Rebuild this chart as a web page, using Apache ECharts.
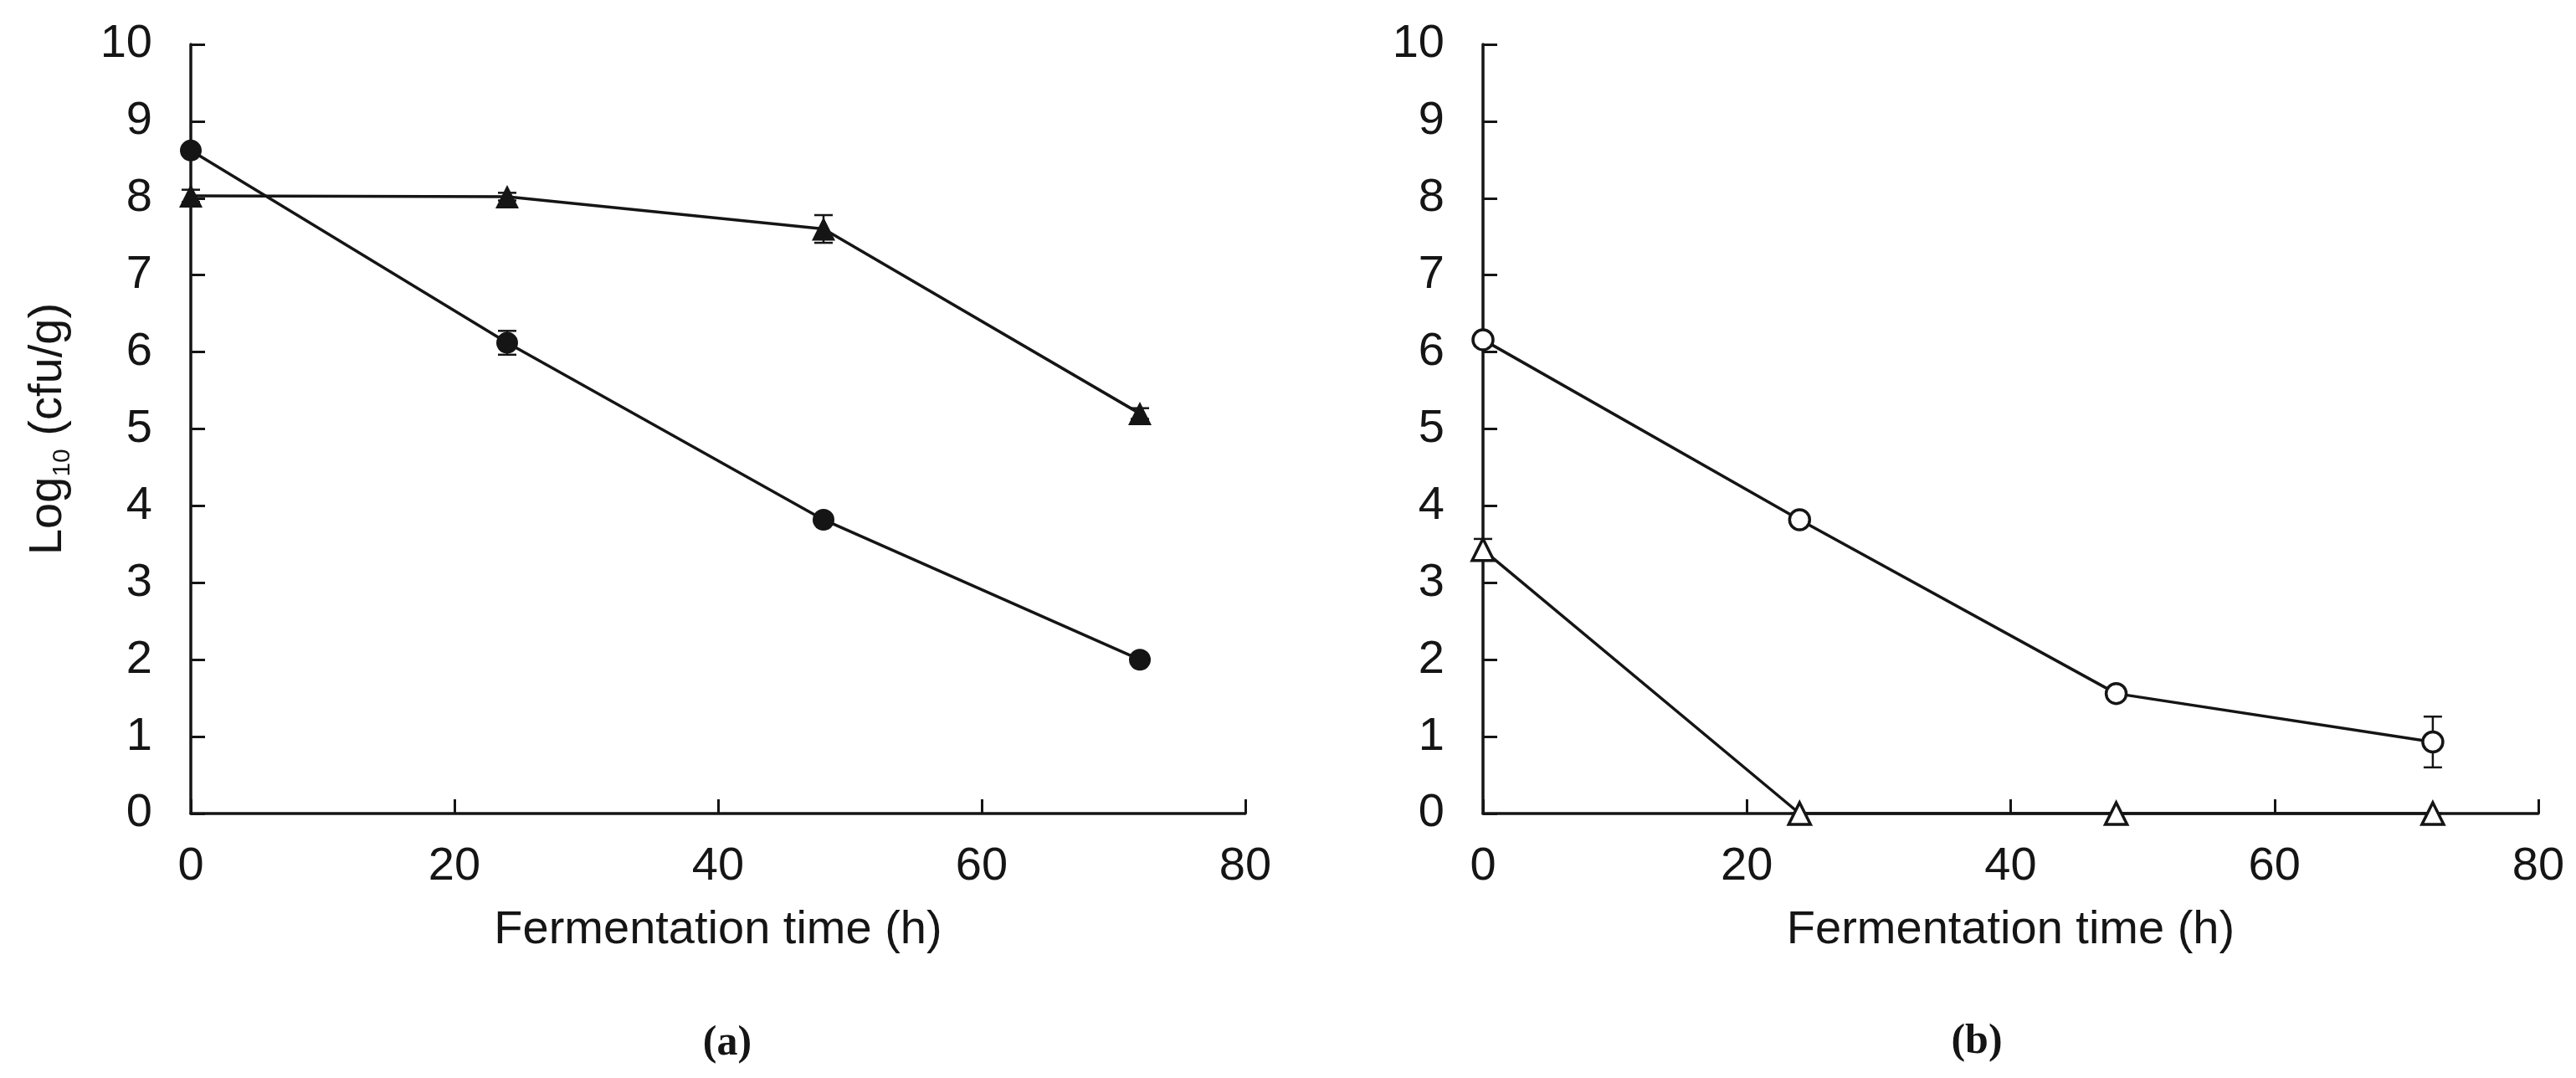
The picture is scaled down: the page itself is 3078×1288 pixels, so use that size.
<!DOCTYPE html>
<html>
<head>
<meta charset="utf-8">
<script src="https://cdn.jsdelivr.net/npm/echarts@6/dist/echarts.min.js"></script>
<style>
  html, body { margin: 0; padding: 0; background: #fff; }
  #chart { width: 3078px; height: 1288px; }
</style>
</head>
<body>
<div id="chart"></div>
<script>
// sampling times (h)
var hours = [0, 24, 48, 72];

// panel (a): filled circles / filled triangles, log10 cfu/g
var aCircle = [8.62, 6.12, 3.82, 2.0];
var aCircleErr = [0.05, 0.155, 0.05, 0.05];
var aTriangle = [8.03, 8.02, 7.6, 5.2];
var aTriangleErr = [0.08, 0.05, 0.18, 0.07];

// panel (b): open circles / open triangles
var bCircle = [6.16, 3.82, 1.56, 0.93];
var bCircleErr = [0.05, 0.05, 0.05, 0.33];
var bTriangle = [3.43, 0, 0, 0];
var bTriangleErr = [0.14, 0, 0, 0];

var FONT = '"Liberation Sans", Arial, sans-serif';
var SERIF = '"Liberation Serif", "Times New Roman", serif';
var INK = '#151515';

function pts(vals) {
    return hours.map(function (h, i) { return [h, vals[i]]; });
}
function errs(vals, e) {
    return hours.map(function (h, i) { return [h, vals[i] - e[i], vals[i] + e[i]]; });
}

// vertical error bar with caps
function errorBar(params, api) {
    var x = api.value(0);
    var lo = api.coord([x, api.value(1)]);
    var hi = api.coord([x, api.value(2)]);
    var w = 11;
    var st = { stroke: INK, lineWidth: 2.5 };
    return {
        type: 'group',
        children: [
            { type: 'line', shape: { x1: lo[0], y1: lo[1], x2: hi[0], y2: hi[1] }, style: st },
            { type: 'line', shape: { x1: hi[0] - w, y1: hi[1], x2: hi[0] + w, y2: hi[1] }, style: st },
            { type: 'line', shape: { x1: lo[0] - w, y1: lo[1], x2: lo[0] + w, y2: lo[1] }, style: st }
        ]
    };
}

function xAx(idx) {
    return {
        type: 'value', gridIndex: idx, min: 0, max: 80, interval: 20,
        name: 'Fermentation time (h)', nameLocation: 'middle', nameGap: 112,
        nameTextStyle: { fontFamily: FONT, fontSize: 56, color: INK },
        axisLine: { onZero: false, lineStyle: { color: INK, width: 3.5 } },
        axisTick: { inside: true, length: 17, lineStyle: { color: INK, width: 3 } },
        axisLabel: { margin: 36, fontFamily: FONT, fontSize: 56, color: INK },
        splitLine: { show: false }
    };
}
function yAx(idx, withName) {
    var ax = {
        type: 'value', gridIndex: idx, min: 0, max: 10, interval: 1,
        axisLine: { show: true, onZero: false, lineStyle: { color: INK, width: 3.5 } },
        axisTick: { show: true, inside: true, length: 17, lineStyle: { color: INK, width: 3 } },
        axisLabel: { margin: 46, fontFamily: FONT, fontSize: 56, color: INK },
        splitLine: { show: false }
    };
    if (withName) {
        ax.name = '{a|Log}{b|10}{a| (cfu/g)}';
        ax.nameLocation = 'middle';
        ax.nameGap = 138;
        ax.nameTextStyle = {
            color: INK,
            rich: {
                a: { fontFamily: FONT, fontSize: 56, color: INK, lineHeight: 64 },
                b: { fontFamily: FONT, fontSize: 30, color: INK, lineHeight: 44, verticalAlign: 'bottom' }
            }
        };
    }
    return ax;
}

function lineSeries(idx, vals, symbol, size, fill) {
    return {
        type: 'line', xAxisIndex: idx, yAxisIndex: idx, z: 3,
        data: pts(vals), symbol: symbol, symbolSize: size, showAllSymbol: true,
        lineStyle: { color: INK, width: 3.5 },
        itemStyle: { color: fill, borderColor: INK, borderWidth: fill === '#fff' ? 3.5 : 0 },
        emphasis: { disabled: true }, animation: false
    };
}
function errSeries(idx, vals, e) {
    return {
        type: 'custom', xAxisIndex: idx, yAxisIndex: idx, z: 2,
        renderItem: errorBar, encode: { x: 0, y: [1, 2] },
        data: errs(vals, e), animation: false, silent: true
    };
}

var chart = echarts.init(document.getElementById('chart'));
chart.setOption({
    backgroundColor: '#fff',
    animation: false,
    grid: [
        { left: 228, right: 1590, top: 53, bottom: 316 },
        { left: 1772, right: 45, top: 53, bottom: 316 }
    ],
    xAxis: [xAx(0), xAx(1)],
    yAxis: [yAx(0, true), yAx(1, false)],
    series: [
        errSeries(0, aCircle, aCircleErr),
        errSeries(0, aTriangle, aTriangleErr),
        lineSeries(0, aCircle, 'circle', 26, INK),
        lineSeries(0, aTriangle, 'triangle', 28, INK),
        errSeries(1, bCircle, bCircleErr),
        errSeries(1, bTriangle, bTriangleErr),
        lineSeries(1, bCircle, 'circle', 24, '#fff'),
        lineSeries(1, bTriangle, 'triangle', 26, '#fff')
    ],
    graphic: [
        { type: 'text', x: 869, y: 1247, style: { text: '(a)', fill: INK, fontFamily: SERIF, fontWeight: 'bold', fontSize: 50, align: 'center', verticalAlign: 'middle' } },
        { type: 'text', x: 2362, y: 1245, style: { text: '(b)', fill: INK, fontFamily: SERIF, fontWeight: 'bold', fontSize: 50, align: 'center', verticalAlign: 'middle' } }
    ]
});
</script>
</body>
</html>
